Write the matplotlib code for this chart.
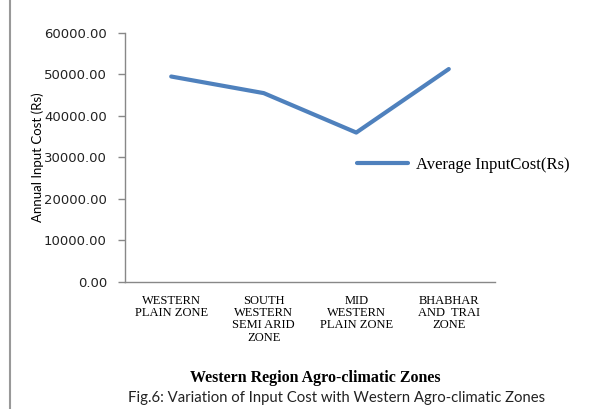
import matplotlib.pyplot as plt
from matplotlib.lines import Line2D

zones = ["WESTERN\nPLAIN ZONE", "SOUTH\nWESTERN\nSEMI ARID\nZONE",
         "MID\nWESTERN\nPLAIN ZONE", "BHABHAR\nAND  TRAI\nZONE"]
input_cost = [49500, 45500, 36000, 51300]
yticks = [0, 10000, 20000, 30000, 40000, 50000, 60000]

fig = plt.figure(figsize=(5.95, 4.09), dpi=100)
ax = fig.add_axes([0.210, 0.3105, 0.622, 0.609])

ax.plot(range(len(zones)), input_cost, color="#4F81BD", lw=3,
        solid_capstyle="round", label="Average InputCost(Rs)")

ax.set_xlim(-0.5, 3.5)
ax.set_ylim(0, 60000)
ax.set_yticks(yticks)
ax.set_yticklabels(["%.2f" % v for v in yticks], fontsize=9.5, color="#222222")
ax.set_xticks(range(len(zones)))
ax.set_xticklabels(zones, fontsize=9, family="Liberation Serif",
                   linespacing=1.05, va="top")
ax.tick_params(axis="x", length=0, pad=9)
ax.tick_params(axis="y", length=5, color="#888888", width=1, pad=8)

for s in ["top", "right"]:
    ax.spines[s].set_visible(False)
for s in ["left", "bottom"]:
    ax.spines[s].set_color("#888888")
    ax.spines[s].set_linewidth(1)

ax.set_ylabel("Annual Input Cost (Rs)", fontsize=9.5, family="Lato", labelpad=0)

ax.legend(loc="center left", bbox_to_anchor=(0.59, 0.47), frameon=False,
          handlelength=3.1, handletextpad=0.45, borderpad=0.3,
          prop={"family": "Liberation Serif", "size": 12})

fig.text(0.53, 0.076, "Western Region Agro-climatic Zones", ha="center", va="center",
         fontsize=11.5, fontweight="bold", family="Liberation Serif")
fig.text(0.566, 0.028, "Fig.6: Variation of Input Cost with Western Agro-climatic Zones",
         ha="center", va="center", fontsize=10.7, family="Lato", color="#222222")

fig.add_artist(Line2D([0.016, 0.016], [0, 1], color="#999999", lw=1.5,
                      transform=fig.transFigure))

fig.savefig("out.png", dpi=100)
